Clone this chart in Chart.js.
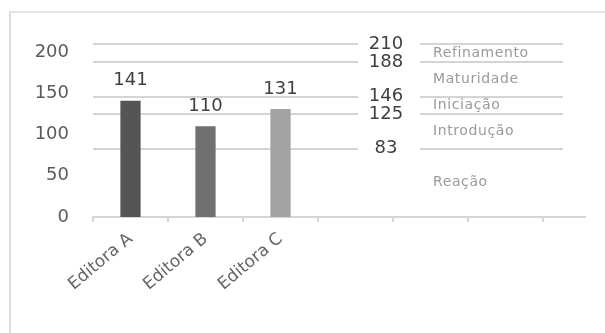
<!DOCTYPE html>
<html lang="pt-br">
<head>
    <meta charset="UTF-8">
    <title>Editoras</title>
    <script src="https://cdn.jsdelivr.net/npm/chart.js"></script>
    <style>
        body { margin: 0; background: #fff; }
        #caixa { position: relative; width: 605px; height: 333px; overflow: hidden; }
        #moldura { position: absolute; left: 9px; top: 11px; right: -5px; bottom: -5px;
                   border-left: 2px solid #dcdcdc; border-top: 2px solid #e4e4e4; }
        canvas { position: absolute; left: 0; top: 0; }
    </style>
</head>
<body>
    <div id="caixa">
        <div id="moldura"></div>
        <canvas id="grafico" width="605" height="333"></canvas>
    </div>

    <script>
        // dados
        const editoras = ['Editora A', 'Editora B', 'Editora C'];
        const valores = [141, 110, 131];
        const cores = ['#555555', '#707070', '#a3a3a3'];
        const marcasY = [0, 50, 100, 150, 200];
        const limites = [210, 188, 146, 125, 83];
        const niveis = ['Refinamento', 'Maturidade', 'Iniciação', 'Introdução', 'Reação'];
        const posicoesX = [0, 1, 2, 3, 4, 5, 6];

        // linhas dos níveis, números e nomes à direita
        const faixas = {
            id: 'faixas',
            beforeDatasetsDraw(chart) {
                const ctx = chart.ctx;
                const y = chart.scales.y;
                const area = chart.chartArea;
                ctx.save();
                ctx.strokeStyle = '#d4d4d4';
                ctx.lineWidth = 2;
                limites.forEach(function (v) {
                    const py = Math.round(y.getPixelForValue(v));
                    ctx.beginPath();
                    ctx.moveTo(area.left, py);
                    ctx.lineTo(358, py);
                    ctx.moveTo(420, py);
                    ctx.lineTo(563, py);
                    ctx.stroke();
                });
                ctx.restore();
            },
            afterDraw(chart) {
                const ctx = chart.ctx;
                const y = chart.scales.y;
                ctx.save();
                ctx.fillStyle = '#3f3f3f';
                ctx.font = '18px "DejaVu Sans"';
                ctx.textAlign = 'center';
                ctx.textBaseline = 'middle';
                limites.forEach(function (v) {
                    ctx.fillText(String(v), 386, y.getPixelForValue(v));
                });
                ctx.fillStyle = '#9a9a9a';
                ctx.font = '14px "DejaVu Sans"';
                ctx.letterSpacing = '0.6px';
                ctx.textAlign = 'left';
                niveis.forEach(function (nome, i) {
                    const de = limites[i];
                    const ate = i + 1 < limites.length ? limites[i + 1] : 0;
                    ctx.fillText(nome, 433, y.getPixelForValue((de + ate) / 2));
                });
                ctx.restore();
            }
        };

        // valores sobre as barras
        const rotulos = {
            id: 'rotulos',
            afterDatasetsDraw(chart) {
                const ctx = chart.ctx;
                const meta = chart.getDatasetMeta(0);
                ctx.save();
                ctx.fillStyle = '#404040';
                ctx.font = '18px "DejaVu Sans"';
                ctx.textAlign = 'center';
                ctx.textBaseline = 'middle';
                meta.data.forEach(function (barra, i) {
                    ctx.fillText(String(valores[i]), barra.x, barra.y - 20);
                });
                ctx.restore();
            }
        };

        const ctx = document.getElementById('grafico').getContext('2d');
        new Chart(ctx, {
            type: 'bar',
            data: {
                datasets: [{
                    data: valores.map(function (v, i) { return { x: i, y: v }; }),
                    backgroundColor: cores,
                    barPercentage: 0.27,
                    categoryPercentage: 1
                }]
            },
            options: {
                responsive: false,
                animation: false,
                layout: { padding: { top: 14, right: 20, left: 0, bottom: 0 } },
                plugins: {
                    legend: { display: false },
                    tooltip: { enabled: false }
                },
                scales: {
                    x: {
                        type: 'linear',
                        offset: false,
                        min: -0.5,
                        max: 6.06,
                        afterBuildTicks: function (scale) {
                            scale.ticks = posicoesX.map(function (v) { return { value: v }; });
                        },
                        afterFit: function (scale) { scale.height = 116; },
                        border: { color: '#d6d6d6', width: 2 },
                        grid: {
                            offset: true,
                            drawOnChartArea: false,
                            color: '#d6d6d6',
                            lineWidth: 2,
                            tickLength: 5
                        },
                        ticks: {
                            autoSkip: false,
                            minRotation: 40,
                            maxRotation: 40,
                            padding: 7,
                            color: '#666',
                            font: { family: 'DejaVu Sans', size: 17 },
                            callback: function (v) { return editoras[v] || ''; }
                        }
                    },
                    y: {
                        min: 0,
                        max: 221,
                        afterBuildTicks: function (scale) {
                            scale.ticks = marcasY.map(function (v) { return { value: v }; });
                        },
                        afterFit: function (scale) { scale.width = 93; },
                        border: { display: false },
                        grid: { display: false, drawTicks: false },
                        ticks: {
                            padding: 24,
                            color: '#5a5a5a',
                            font: { family: 'DejaVu Sans', size: 18 }
                        }
                    }
                }
            },
            plugins: [faixas, rotulos]
        });
    </script>
</body>
</html>
